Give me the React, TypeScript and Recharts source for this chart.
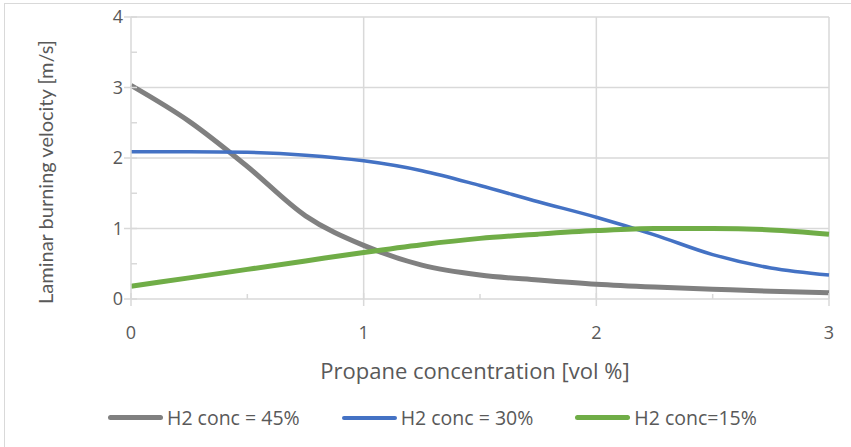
import React from 'react';
import { LineChart, Line, XAxis, YAxis, CartesianGrid, Legend, Label } from 'recharts';

// propane concentration [vol %]
const propane = [0, 0.25, 0.5, 0.75, 1, 1.25, 1.5, 1.75, 2, 2.25, 2.5, 2.75, 3];
// laminar burning velocity [m/s]
const h2_45 = [3.03, 2.52, 1.88, 1.18, 0.76, 0.48, 0.34, 0.27, 0.21, 0.17, 0.14, 0.11, 0.09];
const h2_30 = [2.09, 2.09, 2.08, 2.04, 1.96, 1.82, 1.61, 1.38, 1.16, 0.91, 0.63, 0.44, 0.34];
const h2_15 = [0.18, 0.3, 0.42, 0.54, 0.66, 0.77, 0.86, 0.92, 0.97, 1.0, 1.0, 0.98, 0.92];

const xTicks = [0, 0.5, 1, 1.5, 2, 2.5, 3];
const yTicks = [0, 0.5, 1, 1.5, 2, 2.5, 3, 3.5, 4];

const series = [
  { key: 'h2_45', name: 'H2 conc = 45%', color: '#808080', width: 5 },
  { key: 'h2_30', name: 'H2 conc = 30%', color: '#4472c4', width: 3.5 },
  { key: 'h2_15', name: 'H2 conc=15%', color: '#70ad47', width: 5 },
];

const data = propane.map((x, i) => ({ x, h2_45: h2_45[i], h2_30: h2_30[i], h2_15: h2_15[i] }));

const FONT = '"Open Sans", Lato, sans-serif';
const VFONT = 'Lato, "Open Sans", sans-serif';
const TEXT = '#595959';
const GRID = '#d9d9d9';

function XTick(props: any) {
  const { x, y, payload } = props;
  const major = Number.isInteger(payload.value);
  return (
    <g>
      <line x1={x} x2={x} y1={major ? y - 6 : y - 5} y2={major ? y + 7 : y} stroke={GRID} strokeWidth={1.5} />
      {major && (
        <text x={x} y={y + 40} textAnchor="middle" fill={TEXT} fontSize={18} fontFamily={FONT}>
          {payload.value}
        </text>
      )}
    </g>
  );
}

function YTick(props: any) {
  const { x, y, payload } = props;
  const major = Number.isInteger(payload.value);
  return (
    <g>
      <line x1={major ? x - 7 : x} x2={x + 6} y1={y} y2={y} stroke={GRID} strokeWidth={1.5} />
      {major && (
        <text x={x - 8} y={y} dy="0.35em" textAnchor="end" fill={TEXT} fontSize={18} fontFamily={FONT}>
          {payload.value}
        </text>
      )}
    </g>
  );
}

function LegendBox() {
  return (
    <div style={{ display: 'flex', alignItems: 'center', gap: 42, paddingLeft: 108, fontFamily: FONT, fontSize: 19.5, color: TEXT }}>
      {series.map((s) => (
        <div key={s.key} style={{ display: 'flex', alignItems: 'center' }}>
          <div style={{ width: 55, height: s.width === 5 ? 5 : 4, background: s.color, borderRadius: 3, marginRight: 4 }} />
          <span>{s.name}</span>
        </div>
      ))}
    </div>
  );
}

export default function App() {
  return (
    <div style={{ position: 'absolute', left: 0, top: 0, width: 851, height: 447, overflow: 'hidden', background: '#fff' }}>
      <div style={{ position: 'absolute', left: 4, top: 3, width: 900, height: 500, border: `1.5px solid ${GRID}` }} />
      <LineChart width={851} height={447} data={data} margin={{ top: 17, right: 22, left: 0, bottom: 0 }}>
        <CartesianGrid horizontal vertical horizontalValues={[1, 2, 3, 4]} verticalValues={[1, 2, 3]} stroke={GRID} strokeWidth={1.5} />
        <XAxis
          dataKey="x"
          type="number"
          domain={[0, 3]}
          ticks={xTicks}
          interval={0}
          height={122}
          tickSize={0}
          tickMargin={0}
          tickLine={false}
          axisLine={{ stroke: GRID, strokeWidth: 1.5 }}
          tick={<XTick />}
        >
          <Label
            content={(p: any) => (
              <text x={p.viewBox.x + p.viewBox.width / 2 - 5} y={p.viewBox.y + 80} textAnchor="middle" fill={TEXT} fontSize={22} fontFamily={FONT}>
                Propane concentration [vol %]
              </text>
            )}
          />
        </XAxis>
        <YAxis
          type="number"
          domain={[0, 4]}
          ticks={yTicks}
          interval={0}
          width={131}
          tickSize={0}
          tickMargin={0}
          tickLine={false}
          axisLine={{ stroke: GRID, strokeWidth: 1.5 }}
          tick={<YTick />}
        >
          <Label
            content={(p: any) => (
              <text
                transform={`translate(${p.viewBox.x + 53}, ${p.viewBox.y + p.viewBox.height / 2 + 14}) rotate(-90)`}
                textAnchor="middle"
                fill={TEXT}
                fontSize={20}
                fontFamily={VFONT}
              >
                Laminar burning velocity [m/s]
              </text>
            )}
          />
        </YAxis>
        <Legend
          verticalAlign="bottom"
          content={<LegendBox />}
          wrapperStyle={{ position: 'absolute', left: 0, top: 404, width: 851, height: 26 }}
        />
        {series.map((s) => (
          <Line
            key={s.key}
            type="monotone"
            dataKey={s.key}
            name={s.name}
            stroke={s.color}
            strokeWidth={s.width}
            dot={false}
            isAnimationActive={false}
          />
        ))}
      </LineChart>
    </div>
  );
}
